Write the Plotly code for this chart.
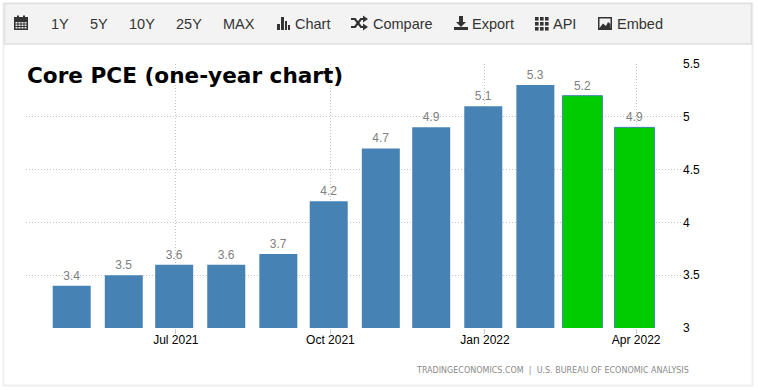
import plotly.graph_objects as go

dates = ["2021-04-30", "2021-05-31", "2021-06-30", "2021-07-31", "2021-08-31", "2021-09-30",
         "2021-10-31", "2021-11-30", "2021-12-31", "2022-01-31", "2022-02-28", "2022-03-31"]
values = [3.4, 3.5, 3.6, 3.6, 3.7, 4.2, 4.7, 4.9, 5.1, 5.3, 5.2, 4.9]
x_ticks = ["2021-07-01", "2021-10-01", "2022-01-01", "2022-04-01"]
x_labels = ["Jul 2021", "Oct 2021", "Jan 2022", "Apr 2022"]
y_ticks = [3, 3.5, 4, 4.5, 5, 5.5]
y_labels = ["3", "3.5", "4", "4.5", "5", "5.5"]
BLUE, GREEN = "#4682B4", "#00CC00"
colors = [BLUE] * 10 + [GREEN] * 2

L, R, T, B = 26, 682, 64, 328
W, H = 758, 390
DAY_MS = 86400000
PX_DAY = 1.68


def px(v):
    return (v - L) / (R - L)


def py(v):
    return (B - v) / (B - T)


def rect(x0, y0, x1, y1, fill=None, line=None, lw=1, layer="below"):
    return dict(type="rect", xref="paper", yref="paper", x0=px(x0), x1=px(x1), y0=py(y0), y1=py(y1),
                fillcolor=fill or "rgba(0,0,0,0)", line=dict(color=line or "rgba(0,0,0,0)", width=lw if line else 0),
                layer=layer)


def path(points, fill=None, line=None, lw=1):
    d = "M " + " L ".join(f"{px(a):.5f},{py(b):.5f}" for a, b in points)
    if fill:
        d += " Z"
    return dict(type="path", xref="paper", yref="paper", path=d,
                fillcolor=fill or "rgba(0,0,0,0)", line=dict(color=line or "rgba(0,0,0,0)", width=lw if line else 0),
                layer="above")


ICON = "#333333"
shapes = [
    rect(3.5, 3.5, 752.5, 385.5, "#FFFFFF", "#EFEFEF", 2),
    rect(4.5, 3.5, 751.5, 44, "#F3F3F3", "#DFDFDF", 1.5),
]
# calendar icon
shapes.append(rect(14, 17, 28, 30, ICON, layer="above"))
shapes.append(rect(17, 15.5, 19, 18, ICON, layer="above"))
shapes.append(rect(23, 15.5, 25, 18, ICON, layer="above"))
for gy in (22, 24.5, 27):
    for gx in (15.5, 18.5, 21.5, 24.5):
        shapes.append(rect(gx, gy, gx + 2, gy + 1.5, "#F3F3F3", layer="above"))
# chart icon
for x0, x1, y0 in ((277, 280, 24), (281, 284, 17), (285, 287, 21), (288, 290, 25)):
    shapes.append(rect(x0, y0, x1, 30, ICON, layer="above"))
# shuffle icon
shapes.append(path([(351, 19), (355, 19), (361, 27), (364, 27)], line=ICON, lw=2.2))
shapes.append(path([(351, 27), (355, 27), (361, 19), (364, 19)], line=ICON, lw=2.2))
shapes.append(path([(363, 15.5), (368, 19), (363, 22.5)], fill=ICON))
shapes.append(path([(363, 23.5), (368, 27), (363, 30.5)], fill=ICON))
# export icon
shapes.append(rect(459, 16, 463, 23, ICON, layer="above"))
shapes.append(path([(456, 22), (466, 22), (461, 27)], fill=ICON))
shapes.append(rect(454, 27, 468, 30, ICON, layer="above"))
# API grid icon
for gx in (535, 540, 545):
    for gy in (17, 22, 27):
        shapes.append(rect(gx, gy, gx + 3.6, gy + 3.6, ICON, layer="above"))
# embed icon
shapes.append(rect(598, 17, 612, 30, ICON, layer="above"))
shapes.append(rect(599.5, 18.5, 610.5, 28, "#F3F3F3", layer="above"))
shapes.append(path([(599.5, 28), (603, 23.5), (606, 26), (608, 22), (610.5, 24), (610.5, 28)], fill=ICON))

toolbar = [("1Y", 60), ("5Y", 99), ("10Y", 142), ("25Y", 189), ("MAX", 239),
           ("Chart", 312), ("Compare", 402.5), ("Export", 493), ("API", 564.5), ("Embed", 640)]
ann = [dict(text=t, x=px(c), y=py(24), xref="paper", yref="paper", xanchor="center", yanchor="middle",
            showarrow=False, font=dict(family="Liberation Sans", size=14.5, color="#333333"))
       for t, c in toolbar]
ann.append(dict(text="<b>Core PCE (one-year chart)</b>", x=px(25), y=py(76), xref="paper", yref="paper",
                xanchor="left", yanchor="middle", showarrow=False,
                font=dict(family="DejaVu Sans", size=21.6, color="#000000")))
ann.append(dict(text="TRADINGECONOMICS.COM  |  U.S. BUREAU OF ECONOMIC ANALYSIS", x=px(690.5), y=py(370),
                xref="paper", yref="paper", xanchor="right", yanchor="middle", showarrow=False,
                font=dict(family="DejaVu Sans", size=8, color="#8A8A8A")))

bar_widths = [(40 if c == GREEN else 38) / PX_DAY * DAY_MS for c in colors]

fig = go.Figure(go.Bar(
    x=dates, y=values, width=bar_widths,
    marker=dict(color=colors, line=dict(color=[BLUE] * 12, width=[0] * 10 + [1, 1])),
    text=[f"{v:.1f}" for v in values], textposition="outside", cliponaxis=False,
    textfont=dict(family="Liberation Sans", size=12, color="#808080"),
    hoverinfo="skip",
))
fig.update_layout(
    width=W, height=H, autosize=False,
    margin=dict(l=L, r=W - R, t=T, b=H - B, pad=0),
    paper_bgcolor="#FFFFFF", plot_bgcolor="rgba(0,0,0,0)",
    showlegend=False, shapes=shapes, annotations=ann,
    xaxis=dict(type="date", range=["2021-04-02 19:00", "2022-04-28 07:00"], tickmode="array",
               tickvals=x_ticks, ticktext=x_labels, showgrid=True, gridcolor="#C4C4C4", griddash="1px,2px",
               gridwidth=1, ticks="outside", ticklen=5, tickcolor="#CCCCCC", zeroline=False, showline=False,
               ticklabelstandoff=-4,
               tickfont=dict(family="Liberation Sans", size=12, color="#000000")),
    yaxis=dict(range=[3, 5.5], side="right", tickmode="array", tickvals=y_ticks, ticktext=y_labels,
               showgrid=True, gridcolor="#C4C4C4", griddash="1px,2px", gridwidth=1, zeroline=False, showline=False,
               ticks="", ticklabelstandoff=0,
               tickfont=dict(family="Liberation Sans", size=12, color="#000000")),
)
fig.write_html("out.html", config={"displayModeBar": False},
               post_script="document.body.style.margin='0';document.documentElement.style.overflow='hidden';")
